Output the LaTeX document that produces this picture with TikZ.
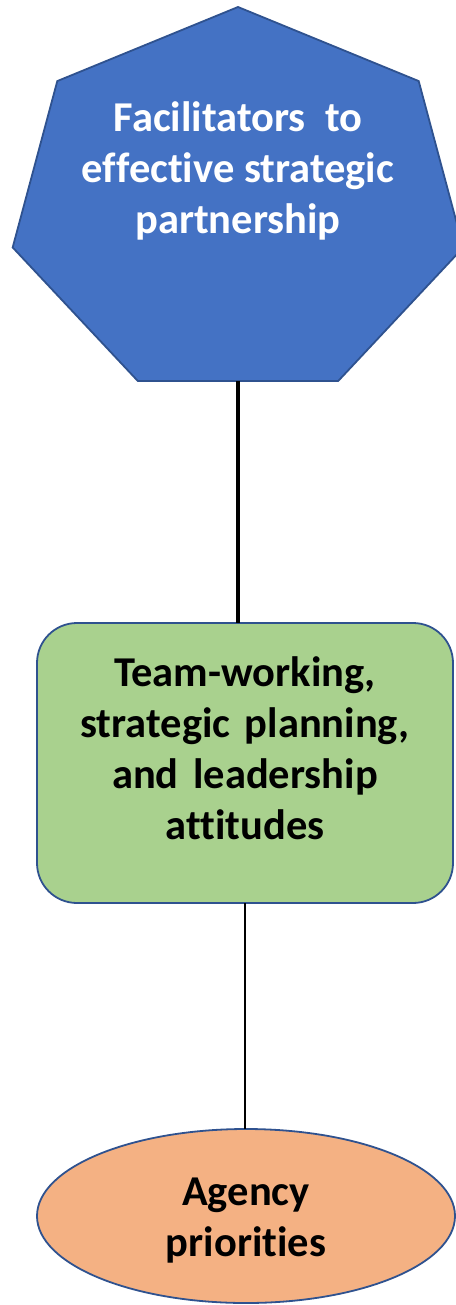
\documentclass[tikz,border=0pt]{standalone}
\usepackage{fontspec}
\setmainfont{Carlito}[Ligatures=CommonOff]
\usetikzlibrary{
  shapes.geometric
}
\definecolor{facilblue}{HTML}{4472C4}
\definecolor{teamgreen}{HTML}{A9D18E}
\definecolor{agencyorange}{HTML}{F4B183}
\definecolor{rimblue}{HTML}{2F528F}
\tikzset{
  % Common look of the three shapes.
  box/.style={
    draw=rimblue,
    line width=1.8pt,
    inner sep=0pt,
    outer sep=0pt},
%
  % For the seven-sided shape on top; it is wider than a regular one.
  heptagon/.style={
    box,
    fill=facilblue,
    regular polygon,
    regular polygon sides=7,
    minimum size=393.4pt,
    xscale=1.175},
%
  % For the rounded box in the middle.
  rounded box/.style={
    box,
    fill=teamgreen,
    rectangle,
    rounded corners=40pt,
    minimum width=416pt,
    minimum height=280pt},
%
  % For the oval at the bottom.
  oval/.style={
    box,
    fill=agencyorange,
    ellipse,
    minimum width=418pt,
    minimum height=174pt},
%
  % For all texts.
  caption/.style={
    font=\fontsize{42.5pt}{51pt}\selectfont\bfseries,
    align=center},
%
  % For the connectors.
  thick link/.style={
    line width=4pt},
  thin link/.style={
    line width=2pt}
}
% A space and a half, as the green box has them.
\newcommand*{\widegap}{\hspace{0.34em}}

\begin{document}
\begin{tikzpicture}[x=1pt,y=-1pt]
  \useasboundingbox (0,0) rectangle (455,1305);

  % The three shapes, from top to bottom.
  \node[heptagon] (facil) at (238,203.7) {};
  \node[rounded box] (team) at (245,763) {};
  \node[oval] (agency) at (246,1216) {};

  % Their texts.
  \node[caption, text=white] (facilText) at (238,170.5)
    {Facilitators\ \ to\\effective strategic\\partnership};
  \node[caption] (teamText) at (245,748.5)
    {Team-working,\\strategic\widegap planning,\\and\widegap leadership\\attitudes};
  \node[caption] (agencyText) at (246,1221)
    {Agency\\priorities};

  % Connectors.
  \draw[thick link] (facil.south) -- (facil.south |- team.north);
  \draw[thin link] (team.south) -- (team.south |- agency.north);
\end{tikzpicture}
\end{document}
